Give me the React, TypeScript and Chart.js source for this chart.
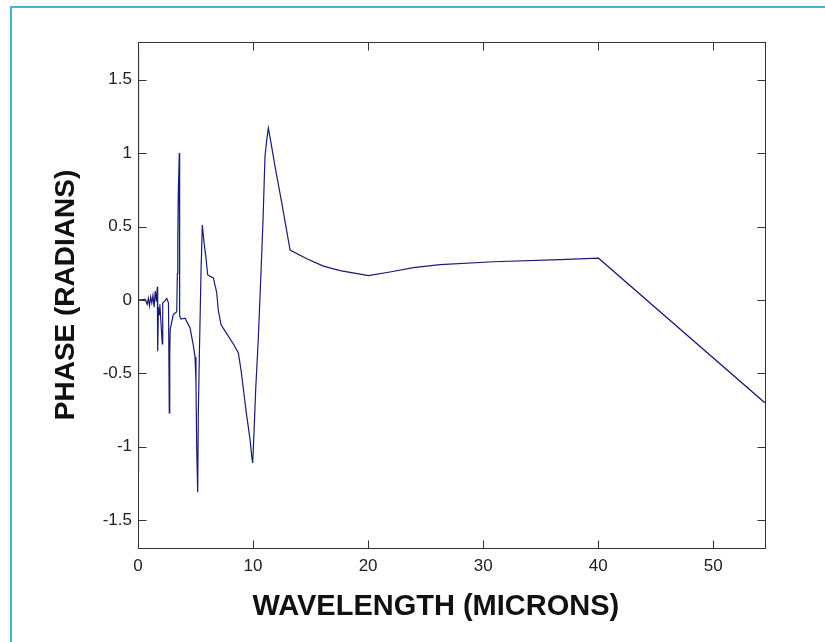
import React, { useEffect, useRef } from 'react';
import { Chart, registerables } from 'chart.js';

Chart.register(...registerables);

const wavelength = [
  0.01, 0.03, 0.06, 0.3, 0.6, 0.8, 0.9, 1.0, 1.1, 1.2, 1.3, 1.4, 1.5, 1.6, 1.68, 1.71, 1.78, 1.85, 1.9, 2.11,
  2.15, 2.3, 2.5, 2.65, 2.72, 2.76, 2.8, 3.07, 3.37, 3.42, 3.46, 3.5, 3.59, 3.62, 3.74, 4.09, 4.52, 4.81, 4.96, 5.04,
  5.1, 5.19, 5.24, 5.33, 5.48, 5.59, 5.74, 5.89, 6.06, 6.55, 6.84, 6.98, 7.22, 7.71, 8.29, 8.72, 8.96, 9.24, 9.45, 9.74,
  9.89, 9.97, 10.09, 10.23, 10.46, 10.7, 10.87, 11.04, 11.19, 11.33, 11.54, 11.91, 12.5, 13.22, 14.67, 16.11, 17.57, 20.03, 21.9, 23.94,
  26.26, 30.9, 36.7, 40.03, 54.48,
];

const phase = [
  1.72, -1.17, 0.0, 0.0, 0.005, -0.03, 0.01, -0.04, 0.02, -0.02, 0.03, -0.05, 0.06, -0.01, 0.09, -0.35, -0.05, -0.1, -0.03, -0.3,
  -0.02, -0.01, 0.01, -0.02, -0.77, -0.37, -0.2, -0.1, -0.08, 0.18, 0.42, 0.72, 1.0, -0.11, -0.13, -0.125, -0.19, -0.31, -0.39, -0.57,
  -1.0, -1.31, -0.79, -0.39, 0.2, 0.51, 0.39, 0.3, 0.17, 0.15, 0.05, -0.07, -0.17, -0.23, -0.3, -0.36, -0.48, -0.66, -0.79, -0.95,
  -1.07, -1.11, -0.89, -0.61, -0.26, 0.2, 0.55, 0.98, 1.09, 1.17, 1.08, 0.91, 0.66, 0.34, 0.28, 0.23, 0.2, 0.165, 0.19, 0.22,
  0.24, 0.26, 0.275, 0.284, -0.7,
];

const xTicks = [0, 10, 20, 30, 40, 50];
const yTicks = [-1.5, -1, -0.5, 0, 0.5, 1, 1.5];
const xRange = [0, 54.5];
const yRange = [-1.69, 1.757];
const xTitle = 'WAVELENGTH (MICRONS)';
const yTitle = 'PHASE (RADIANS)';

const AXIS_COLOR = '#333333';
const LINE_COLOR = '#1a1a78';
const FONT = 'Liberation Sans, Arial, sans-serif';

const boxPlugin = {
  id: 'matlabBox',
  afterDatasetsDraw(chart: any) {
    const { ctx, chartArea: a, scales } = chart;
    ctx.save();
    ctx.strokeStyle = AXIS_COLOR;
    ctx.lineWidth = 1;
    const L = Math.round(a.left) + 0.5;
    const R = Math.round(a.right) + 0.5;
    const T = Math.round(a.top) + 0.5;
    const B = Math.round(a.bottom) + 0.5;
    ctx.strokeRect(L, T, R - L, B - T);
    const tl = 8;
    ctx.beginPath();
    for (const v of xTicks) {
      const px = Math.round(scales.x.getPixelForValue(v)) + 0.5;
      ctx.moveTo(px, B);
      ctx.lineTo(px, B - tl);
      ctx.moveTo(px, T);
      ctx.lineTo(px, T + tl);
    }
    for (const v of yTicks) {
      const py = Math.round(scales.y.getPixelForValue(v)) + 0.5;
      ctx.moveTo(L, py);
      ctx.lineTo(L + tl, py);
      ctx.moveTo(R, py);
      ctx.lineTo(R - tl, py);
    }
    ctx.stroke();
    // x-axis title (placed as in the original figure, slightly left of the axis centre)
    ctx.fillStyle = '#111111';
    ctx.font = `bold 29px ${FONT}`;
    ctx.textAlign = 'center';
    ctx.textBaseline = 'middle';
    ctx.fillText(xTitle, a.left + (a.right - a.left) * 0.475, a.bottom + 59);
    ctx.restore();
  },
};

export default function App() {
  const canvasRef = useRef<HTMLCanvasElement | null>(null);

  useEffect(() => {
    if (!canvasRef.current) return;
    const points = wavelength.map((x, i) => ({ x, y: phase[i] }));
    const chart = new Chart(canvasRef.current, {
      type: 'scatter',
      data: {
        datasets: [
          {
            data: points,
            showLine: true,
            borderColor: LINE_COLOR,
            borderWidth: 1.2,
            pointRadius: 0,
            pointHoverRadius: 0,
            tension: 0,
            fill: false,
          },
        ],
      },
      options: {
        animation: false,
        responsive: false,
        maintainAspectRatio: false,
        layout: { padding: { left: 0, top: 42, right: 60, bottom: 0 } },
        plugins: { legend: { display: false }, tooltip: { enabled: false }, title: { display: false } },
        scales: {
          x: {
            type: 'linear',
            min: xRange[0],
            max: xRange[1],
            afterBuildTicks: (scale: any) => {
              scale.ticks = xTicks.map((value) => ({ value }));
            },
            afterFit: (scale: any) => {
              scale.height = 94;
            },
            grid: { display: false, drawTicks: false },
            border: { display: false },
            ticks: {
              color: '#222222',
              padding: 8,
              maxRotation: 0,
              font: { family: FONT, size: 17 },
              callback: (v: any) => String(v),
            },
            title: { display: false, text: xTitle },
          },
          y: {
            type: 'linear',
            min: yRange[0],
            max: yRange[1],
            afterBuildTicks: (scale: any) => {
              scale.ticks = yTicks.map((value) => ({ value }));
            },
            afterFit: (scale: any) => {
              scale.width = 138;
            },
            grid: { display: false, drawTicks: false },
            border: { display: false },
            ticks: {
              color: '#222222',
              padding: 6,
              font: { family: FONT, size: 17 },
              callback: (v: any) => String(v),
            },
            title: {
              display: true,
              text: yTitle,
              color: '#111111',
              font: { family: FONT, size: 28, weight: 'bold' },
              padding: { top: 49, bottom: 0 },
            },
          },
        },
      },
      plugins: [boxPlugin],
    });
    return () => chart.destroy();
  }, []);

  return (
    <div style={{ position: 'absolute', left: 0, top: 0, width: 825, height: 642, background: '#ffffff' }}>
      <div
        style={{
          position: 'absolute',
          left: 10,
          top: 6,
          width: 825,
          height: 642,
          borderLeft: '2px solid #4db3c9',
          borderTop: '2px solid #4db3c9',
          boxSizing: 'border-box',
        }}
      />
      <canvas ref={canvasRef} width={825} height={642} style={{ position: 'absolute', left: 0, top: 0 }} />
    </div>
  );
}
